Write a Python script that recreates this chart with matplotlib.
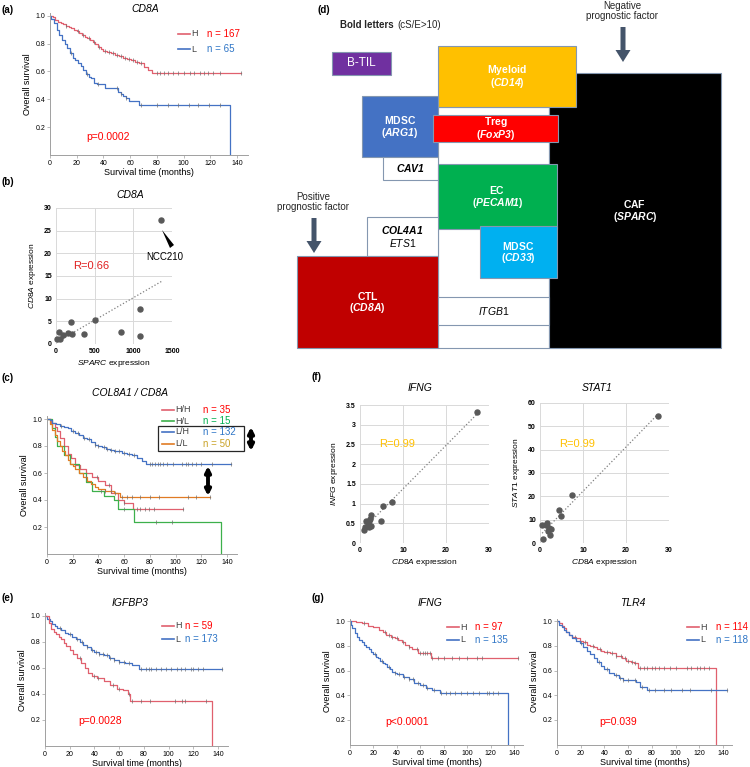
import numpy as np
import matplotlib
matplotlib.use('Agg')
import matplotlib.pyplot as plt
from matplotlib.patches import Rectangle, Polygon

plt.rcParams['font.family'] = ['Liberation Sans', 'DejaVu Sans']
plt.rcParams['mathtext.fontset'] = 'custom'
plt.rcParams['mathtext.rm'] = 'Liberation Sans'
plt.rcParams['mathtext.it'] = 'Liberation Sans:italic'
plt.rcParams['mathtext.bf'] = 'Liberation Sans:bold'
plt.rcParams['mathtext.bfit'] = 'Liberation Sans:bold:italic'

# ---- survival data (step times, survival after step, end time, censor times)
# (a) CD8A
a_H_t = [2, 4, 6, 8, 10, 12, 14, 16, 18, 20, 22, 24, 26, 28, 30, 32, 34, 36, 38, 40,
         43, 46, 49, 52, 55, 58, 61, 64, 67, 70, 73, 76]
a_H_s = [0.99, 0.97, 0.96, 0.95, 0.94, 0.93, 0.92, 0.91, 0.90, 0.89, 0.88, 0.86, 0.85,
         0.84, 0.83, 0.81, 0.80, 0.78, 0.76, 0.75, 0.74, 0.73, 0.72, 0.71, 0.70, 0.69,
         0.68, 0.67, 0.66, 0.63, 0.61, 0.59]
a_H_end = 143
a_H_cens = [12, 21, 25, 29, 33, 37, 41, 44, 47, 50, 53, 56, 59, 62, 65, 68, 80, 82, 85,
            88, 92, 96, 100, 105, 108, 112, 115, 118, 122, 127, 143]
a_L_t = [1, 3, 5, 7, 9, 11, 13, 15, 17, 19, 21, 23, 25, 27, 29, 31, 33, 35, 41, 51, 53,
         55, 57, 59, 67, 135]
a_L_s = [0.98, 0.95, 0.90, 0.86, 0.83, 0.80, 0.77, 0.73, 0.70, 0.68, 0.66, 0.64, 0.61,
         0.58, 0.56, 0.55, 0.52, 0.51, 0.48, 0.45, 0.44, 0.42, 0.41, 0.39, 0.36, 0.0]
a_L_end = 135
a_L_cens = [16, 28, 36, 50, 53, 57, 68, 80, 88, 96, 104, 111, 119, 127]

# (c) COL8A1 / CD8A
c_HH_t = [3, 6, 8, 10, 13, 16, 19, 22, 26, 30, 35, 40, 45, 50, 55, 60, 67]
c_HH_s = [0.97, 0.94, 0.91, 0.86, 0.80, 0.74, 0.71, 0.66, 0.63, 0.60, 0.57, 0.54, 0.51,
          0.45, 0.40, 0.38, 0.33]
c_HH_end = 106
c_HH_cens = [39, 48, 60, 70, 72, 76, 79, 83, 106]
c_HL_t = [4, 6, 8, 13, 18, 25, 30, 35, 44, 52, 55, 68, 135]
c_HL_s = [0.93, 0.87, 0.80, 0.73, 0.67, 0.60, 0.53, 0.47, 0.43, 0.40, 0.33, 0.24, 0.0]
c_HL_end = 135
c_HL_cens = [42, 60, 85, 97]
c_LH_t = [2, 4, 7, 10, 13, 16, 19, 22, 25, 28, 31, 34, 37, 40, 43, 46, 49, 52, 55, 58,
          62, 66, 70, 74, 77]
c_LH_s = [0.99, 0.97, 0.96, 0.95, 0.94, 0.93, 0.91, 0.90, 0.88, 0.86, 0.85, 0.83, 0.81,
          0.80, 0.79, 0.78, 0.77, 0.76, 0.76, 0.75, 0.74, 0.73, 0.71, 0.69, 0.67]
c_LH_end = 143
c_LH_cens = [11, 20, 24, 29, 33, 37, 40, 44, 47, 50, 53, 56, 60, 64, 68, 80, 82, 84, 86,
             88, 90, 93, 98, 105, 108, 110, 113, 116, 120, 128, 143]
c_LL_t = [2, 4, 6, 8, 10, 12, 14, 16, 18, 20, 22, 25, 28, 31, 34, 37, 40, 45, 52, 57]
c_LL_s = [0.96, 0.92, 0.88, 0.84, 0.80, 0.76, 0.73, 0.70, 0.67, 0.65, 0.63, 0.60, 0.57,
          0.54, 0.52, 0.50, 0.48, 0.47, 0.45, 0.42]
c_LL_end = 127
c_LL_cens = [30, 45, 50, 53, 58, 62, 66, 72, 80, 87, 110, 116, 127]

# (e) IGFBP3
e_H_t = [3, 5, 7, 9, 11, 13, 15, 17, 20, 23, 26, 29, 32, 35, 38, 42, 48, 53, 58, 63, 67,
         69, 135]
e_H_s = [0.95, 0.90, 0.88, 0.86, 0.84, 0.82, 0.79, 0.77, 0.74, 0.71, 0.68, 0.64, 0.60,
         0.56, 0.54, 0.52, 0.50, 0.47, 0.44, 0.43, 0.40, 0.35, 0.0]
e_H_end = 135
e_H_cens = [28, 40, 43, 55, 60, 68, 70, 78, 85, 105, 111, 113, 130]
e_L_t = [2, 4, 6, 8, 10, 13, 16, 19, 22, 25, 28, 31, 34, 37, 40, 44, 48, 52, 56, 60, 65,
         70, 76]
e_L_s = [0.98, 0.96, 0.94, 0.92, 0.91, 0.89, 0.87, 0.86, 0.84, 0.82, 0.80, 0.78, 0.76,
         0.74, 0.72, 0.71, 0.70, 0.68, 0.66, 0.65, 0.64, 0.62, 0.59]
e_L_end = 143
e_L_cens = [12, 20, 26, 30, 34, 38, 41, 44, 47, 50, 53, 56, 60, 64, 68, 78, 82, 84, 86,
            90, 94, 98, 102, 107, 110, 113, 118, 120, 124, 128, 143]

# (g) IFNG
gi_H_t = [5, 10, 15, 20, 25, 28, 31, 35, 38, 41, 44, 47, 50, 53, 58, 69]
gi_H_s = [0.99, 0.98, 0.96, 0.95, 0.93, 0.91, 0.89, 0.87, 0.86, 0.85, 0.83, 0.81, 0.79,
          0.77, 0.74, 0.70]
gi_H_end = 143
gi_H_cens = [12, 30, 33, 36, 40, 45, 50, 57, 60, 62, 64, 66, 68, 70, 75, 80, 87, 93, 100,
             108, 113, 143]
gi_L_t = [1, 2, 4, 6, 8, 10, 12, 14, 16, 18, 20, 22, 24, 26, 28, 30, 32, 34, 36, 38, 40,
          45, 50, 55, 60, 65, 70, 77, 135]
gi_L_s = [0.97, 0.94, 0.90, 0.87, 0.85, 0.83, 0.81, 0.79, 0.77, 0.75, 0.73, 0.71, 0.70,
          0.68, 0.66, 0.65, 0.63, 0.61, 0.59, 0.58, 0.57, 0.55, 0.53, 0.50, 0.48, 0.46,
          0.44, 0.42, 0.0]
gi_L_end = 135
gi_L_cens = [21, 27, 33, 38, 42, 46, 50, 54, 58, 62, 66, 72, 78, 82, 85, 90, 95, 100, 105,
             110, 117, 119, 122, 126]

# (g) TLR4
gt_H_t = [2, 4, 6, 8, 10, 13, 16, 19, 22, 25, 28, 31, 34, 37, 40, 45, 50, 55, 58, 62, 65,
          68, 134]
gt_H_s = [0.98, 0.96, 0.94, 0.91, 0.89, 0.87, 0.86, 0.84, 0.83, 0.81, 0.80, 0.79, 0.77,
          0.76, 0.75, 0.74, 0.72, 0.70, 0.68, 0.67, 0.66, 0.62, 0.0]
gt_H_end = 134
gt_H_cens = [15, 24, 30, 36, 42, 46, 50, 54, 57, 60, 63, 66, 70, 73, 76, 80, 83, 86, 90,
             95, 100, 110, 113, 118, 121, 124, 128]
gt_L_t = [2, 4, 6, 8, 10, 13, 16, 19, 22, 25, 28, 31, 34, 37, 40, 44, 48, 52, 56, 62, 67,
          70, 76]
gt_L_s = [0.97, 0.95, 0.93, 0.91, 0.89, 0.86, 0.84, 0.82, 0.79, 0.76, 0.73, 0.70, 0.67,
          0.64, 0.61, 0.58, 0.56, 0.54, 0.52, 0.52, 0.51, 0.47, 0.44]
gt_L_end = 143
gt_L_cens = [20, 35, 42, 50, 53, 56, 60, 66, 72, 78, 83, 90, 96, 105, 112, 130, 143]

# ---- scatter data
sparc_b = [13, 34, 56, 86, 150, 197, 206, 356, 501, 840, 1080, 1080, 1363]
cd8a_b = [1.0, 2.7, 1.2, 2.0, 2.35, 4.9, 2.1, 2.2, 5.35, 2.6, 7.8, 1.7, 27.3]
cd8a_f1 = [27.3, 7.5, 5.3, 4.9, 2.5, 2.1, 2.5, 1.5, 2.1, 1.2, 0.85, 1.8, 2.3]
ifng_f = [3.31, 1.04, 0.93, 0.57, 0.72, 0.57, 0.42, 0.55, 0.41, 0.41, 0.34, 0.46, 0.6]
cd8a_f2 = [27.4, 7.4, 4.5, 4.9, 0.6, 0.5, 1.4, 2.1, 1.9, 2.3, 1.7, 2.6]
stat1_f = [54.6, 20.4, 14.0, 11.7, 1.7, 7.9, 7.9, 6.4, 5.0, 3.6, 8.5, 5.8]

RED = '#E0606E'
BLUE = '#4472C4'
GREEN = '#3DB04B'
ORANGE = '#E07B24'

W, H = 750, 767
fig = plt.figure(figsize=(7.5, 7.67), dpi=100)


def px_axes(x0, x1, ytop, ybot):
    return fig.add_axes([x0 / W, 1 - ybot / H, (x1 - x0) / W, (ybot - ytop) / H])


def km_axes(x0, x140, y1, y02):
    sx = (x140 - x0) / 140
    sy = (y02 - y1) / 0.8
    ybot = y1 + sy
    ax = px_axes(x0, x0 + 148 * sx, ybot - 1.02 * sy, ybot)
    ax.set_xlim(0, 148)
    ax.set_ylim(0, 1.02)
    ax.set_xticks(range(0, 141, 20))
    ax.set_yticks([0.2, 0.4, 0.6, 0.8, 1.0])
    ax.set_yticklabels(['0.2', '0.4', '0.6', '0.8', '1.0'])
    for side in ['top', 'right']:
        ax.spines[side].set_visible(False)
    for side in ['left', 'bottom']:
        ax.spines[side].set_color('#A0A0A0')
        ax.spines[side].set_linewidth(0.7)
    ax.tick_params(labelsize=5, length=2, width=0.5, color='#A0A0A0', pad=1.5)
    ax.set_xlabel('Survival time (months)', fontsize=6.5, labelpad=1)
    ax.set_ylabel('Overall survival', fontsize=6.5, labelpad=2)
    return ax


def km(ax, t, s, end, cens, color):
    tt = np.r_[0, t, end]
    ss = np.r_[1.0, s, s[-1]]
    ax.step(tt, ss, where='post', color=color, lw=0.9)
    cens = np.asarray(cens)
    idx = np.searchsorted(tt, cens, side='right') - 1
    ax.plot(cens, ss[idx], ls='none', marker='|', ms=3.5, mew=0.5, color='#707070')


def sc_axes(x0, x1, ytop, ybot, xmax, ymax, xstep, ystep):
    ax = px_axes(x0, x1, ytop, ybot)
    ax.set_xlim(0, xmax)
    ax.set_ylim(0, ymax)
    ax.set_xticks(np.arange(0, xmax + 1e-9, xstep))
    ax.set_yticks(np.arange(0, ymax + 1e-9, ystep))
    ax.set_yticklabels(['%g' % v for v in np.arange(0, ymax + 1e-9, ystep)])
    ax.grid(color='#D9D9D9', lw=0.7)
    ax.set_axisbelow(True)
    for sp in ax.spines.values():
        sp.set_visible(False)
    ax.tick_params(length=0, labelsize=5, pad=3)
    for lb in ax.get_xticklabels() + ax.get_yticklabels():
        lb.set_fontweight('bold')
    return ax


def sc(ax, x, y):
    x = np.asarray(x)
    y = np.asarray(y)
    ax.scatter(x, y, s=13, color='#595959', zorder=3, clip_on=False)
    k, b = np.polyfit(x, y, 1)
    xs = np.array([x.min(), x.max()])
    ax.plot(xs, k * xs + b, ls=':', color='#7F7F7F', lw=0.9)


# (a)
ax_a = km_axes(50, 237, 16, 127)
km(ax_a, a_H_t, a_H_s, a_H_end, a_H_cens, RED)
km(ax_a, a_L_t, a_L_s, a_L_end, a_L_cens, BLUE)

# (b)
ax_b = sc_axes(56, 172, 208, 344, 1500, 30, 500, 5)
sc(ax_b, sparc_b, cd8a_b)
ax_b.set_ylabel('$\\mathit{CD8A}$ expression', fontsize=6)
ax_b.set_xlabel('$\\mathit{SPARC}$ expression', fontsize=6, labelpad=2)

# (c)
ax_c = km_axes(47, 227, 419, 527)
km(ax_c, c_HH_t, c_HH_s, c_HH_end, c_HH_cens, RED)
km(ax_c, c_HL_t, c_HL_s, c_HL_end, c_HL_cens, GREEN)
km(ax_c, c_LL_t, c_LL_s, c_LL_end, c_LL_cens, ORANGE)
km(ax_c, c_LH_t, c_LH_s, c_LH_end, c_LH_cens, BLUE)

# (e)
ax_e = km_axes(45, 218, 616, 720)
km(ax_e, e_L_t, e_L_s, e_L_end, e_L_cens, BLUE)
km(ax_e, e_H_t, e_H_s, e_H_end, e_H_cens, RED)

# (f)
ax_f1 = sc_axes(360, 489, 405, 543, 30, 3.5, 10, 0.5)
sc(ax_f1, cd8a_f1, ifng_f)
ax_f1.set_ylabel('$\\mathit{INFG}$ expression', fontsize=6)
ax_f1.set_xlabel('$\\mathit{CD8A}$ expression', fontsize=6, labelpad=2)
ax_f2 = sc_axes(540, 669, 403, 543, 30, 60, 10, 10)
sc(ax_f2, cd8a_f2, stat1_f)
ax_f2.set_ylabel('$\\mathit{STAT1}$ expression', fontsize=6)
ax_f2.set_xlabel('$\\mathit{CD8A}$ expression', fontsize=6, labelpad=2)

# (g)
ax_g1 = km_axes(350, 514, 621, 720)
km(ax_g1, gi_H_t, gi_H_s, gi_H_end, gi_H_cens, RED)
km(ax_g1, gi_L_t, gi_L_s, gi_L_end, gi_L_cens, BLUE)
ax_g2 = km_axes(557, 723, 621, 720)
km(ax_g2, gt_H_t, gt_H_s, gt_H_end, gt_H_cens, RED)
km(ax_g2, gt_L_t, gt_L_s, gt_L_end, gt_L_cens, BLUE)

# ---- overlay in pixel units for labels, legends and the diagram
ov = fig.add_axes([0, 0, 1, 1])
ov.set_xlim(0, W)
ov.set_ylim(H, 0)
ov.axis('off')


def txt(x, y, s, size=7, **kw):
    kw.setdefault('va', 'center')
    ov.text(x, y, s, fontsize=size, **kw)


for lab, x, y in [('(a)', 1, 10), ('(b)', 1, 182), ('(c)', 1, 378), ('(d)', 318, 10),
                  ('(e)', 1, 598), ('(f)', 311, 377), ('(g)', 311, 598)]:
    txt(x, y, lab, 7, fontweight='bold')

for s, x, y in [('CD8A', 145, 9), ('CD8A', 130, 195), ('COL8A1 / CD8A', 130, 393),
                ('IGFBP3', 130, 603), ('IFNG', 420, 388), ('STAT1', 597, 388),
                ('IFNG', 430, 603), ('TLR4', 633, 603)]:
    txt(x, y, s, 7.5, ha='center', fontstyle='italic')


def leg(x, y, lab, lcol, ntxt, ncol, gap=29):
    ov.plot([x, x + 12], [y, y], color=lcol, lw=1.2)
    txt(x + 13, y, lab, 6.5, color='#404040')
    txt(x + gap, y, ntxt, 7, color=ncol)


leg(178, 34, 'H', RED, 'n = 167', '#FF0000')
leg(178, 49, 'L', BLUE, 'n = 65', '#2E75C6')
leg(162, 626, 'H', RED, 'n = 59', '#FF0000', 23)
leg(162, 639, 'L', BLUE, 'n = 173', '#2E75C6', 23)
leg(447, 627, 'H', RED, 'n = 97', '#FF0000', 28)
leg(447, 640, 'L', BLUE, 'n = 135', '#2E75C6', 28)
leg(687, 627, 'H', RED, 'n = 114', '#FF0000', 29)
leg(687, 640, 'L', BLUE, 'n = 118', '#2E75C6', 29)
leg(162, 410, 'H/H', RED, 'n = 35', '#FF0000', 41)
leg(162, 421, 'H/L', GREEN, 'n = 15', '#00B050', 41)
leg(162, 432, 'L/H', BLUE, 'n = 132', '#2E75C6', 41)
leg(162, 444, 'L/L', ORANGE, 'n = 50', '#C9A227', 41)
ov.add_patch(Rectangle((158, 426), 86, 25, fill=False, ec='#262626', lw=0.9))
for x, y0, y1 in [(251, 427, 451), (208, 466, 496)]:
    ov.annotate('', xy=(x, y0), xytext=(x, y1),
                arrowprops=dict(arrowstyle='<|-|>', color='black', lw=2.8,
                                mutation_scale=8, shrinkA=0, shrinkB=0))

txt(108, 137, 'p=0.0002', 7.5, ha='center', color='#FF0000')
txt(100, 721, 'p=0.0028', 7.5, ha='center', color='#FF0000')
txt(407, 722, 'p<0.0001', 7.5, ha='center', color='#FF0000')
txt(618, 722, 'p=0.039', 7.5, ha='center', color='#FF0000')

txt(91, 266, 'R=0.66', 8, ha='center', color='#E02020')
txt(165, 257, 'NCC210', 7, ha='center')
ov.add_patch(Polygon([(162, 230), (170, 248), (174, 245)], color='black', lw=0))
txt(397, 444, 'R=0.99', 8, ha='center', color='#FFC000')
txt(577, 444, 'R=0.99', 8, ha='center', color='#FFC000')

# ---- (d) diagram
EDGE = '#8497B0'


def box(x0, y0, x1, y1, fc, lines=(), tcol='white'):
    ov.add_patch(Rectangle((x0, y0), x1 - x0, y1 - y0, fc=fc, ec=EDGE, lw=0.8))
    n = len(lines)
    for i, s in enumerate(lines):
        txt((x0 + x1) / 2, (y0 + y1) / 2 + (i - (n - 1) / 2) * 12.5, s, 7.5,
            ha='center', color=tcol)


def bi(g):
    return '$\\mathbf{(}\\mathbfit{' + g + '}\\mathbf{)}$'


box(438, 107, 549, 348, 'white')
box(549, 73, 721, 348, 'black', ['$\\mathbf{CAF}$', bi('SPARC')])
box(438, 46, 576, 107, '#FFC000', ['$\\mathbf{Myeloid}$', bi('CD14')])
box(362, 96, 438, 157, '#4472C4', ['$\\mathbf{MDSC}$', bi('ARG1')])
box(433, 115, 558, 142, '#FF0000', ['$\\mathbf{Treg}$', bi('FoxP3')])
box(383, 157, 438, 180, 'white', ['$\\mathbfit{CAV1}$'], 'black')
box(438, 164, 557, 229, '#00B050', ['$\\mathbf{EC}$', bi('PECAM1')])
box(367, 217, 438, 256, 'white', ['$\\mathbfit{COL4A1}$', '$\\mathit{ETS1}$'], 'black')
box(480, 226, 557, 278, '#00B0F0', ['$\\mathbf{MDSC}$', bi('CD33')])
box(297, 256, 438, 348, '#C00000', ['$\\mathbf{CTL}$', bi('CD8A')])
box(438, 297, 549, 325, 'white', ['$\\mathit{ITGB1}$'], 'black')
ov.add_patch(Rectangle((332, 52), 59, 23, fc='#7030A0', ec=EDGE, lw=0.8))
txt(361.5, 63.5, 'B-TIL', 8.5, ha='center', color='white')

txt(340, 25, 'Bold letters', 7, fontweight='bold', color='#262626')
txt(397, 25, '(cS/E>10)', 7, color='#262626')
txt(622, 11, 'Negative\nprognostic factor', 7, ha='center', color='#262626',
    linespacing=1.1)
txt(313, 202, 'Positive\nprognostic factor', 7, ha='center', color='#262626',
    linespacing=1.1)
for x, y0, y1 in [(623, 27, 62), (314, 218, 253)]:
    ov.arrow(x, y0, 0, y1 - y0, width=5, head_width=15, head_length=12,
             length_includes_head=True, color='#44546A', lw=0)

fig.savefig('out.png', dpi=100)
